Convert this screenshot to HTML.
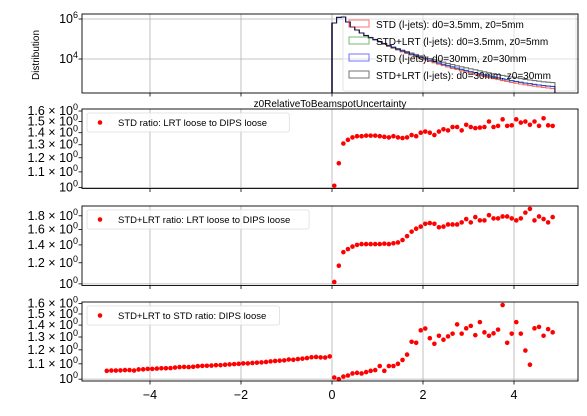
<!DOCTYPE html>
<html><head><meta charset="utf-8"><style>
body{margin:0;background:#fff;}
svg{display:block;font-family:"Liberation Sans","DejaVu Sans",sans-serif;}
</style></head><body>
<svg id="c" width="587" height="416" viewBox="0 0 587 416" xmlns="http://www.w3.org/2000/svg"></svg>
<script>
// ---- data ----
const histEdgesStart = 0.0, histBinWidth = 0.1;
const histRed = [5.8,6.08,6.1,5.85,5.6,5.45,5.3,5.17,5.06,4.95,4.85,4.74,4.63,4.54,4.45,4.36,4.28,4.2,4.12,4.04,3.96,3.88,3.81,3.74,3.67,3.6,3.53,3.47,3.41,3.35,3.29,3.23,3.17,3.12,3.07,3.02,2.97,2.92,2.88,2.83,2.79,2.75,2.71,2.67,2.64,2.61,2.58,2.55,2.52];
const histGreen = [5.8,6.08,6.1,5.85,5.6,5.45,5.3,5.17,5.06,4.96,4.86,4.75,4.65,4.56,4.47,4.39,4.31,4.23,4.15,4.08,4.0,3.93,3.86,3.79,3.72,3.66,3.59,3.53,3.47,3.41,3.35,3.3,3.24,3.19,3.14,3.09,3.04,3.0,2.95,2.91,2.87,2.83,2.79,2.76,2.73,2.7,2.67,2.64,2.62];
const histBlue = [5.8,6.08,6.1,5.85,5.6,5.45,5.3,5.17,5.07,4.97,4.87,4.77,4.67,4.58,4.49,4.41,4.33,4.25,4.17,4.1,4.02,3.95,3.88,3.81,3.74,3.68,3.61,3.55,3.49,3.43,3.37,3.32,3.26,3.21,3.16,3.11,3.06,3.01,2.97,2.92,2.88,2.84,2.8,2.77,2.73,2.7,2.67,2.65,2.63];
const histGrey = [5.8,6.08,6.1,5.85,5.6,5.45,5.3,5.18,5.08,4.98,4.88,4.78,4.68,4.6,4.52,4.44,4.37,4.3,4.23,4.16,4.09,4.02,3.96,3.9,3.84,3.78,3.72,3.66,3.61,3.56,3.51,3.46,3.41,3.36,3.31,3.26,3.22,3.18,3.14,3.1,3.06,3.02,2.98,2.95,2.92,2.89,2.86,2.84,2.82];
const posX = [0.05,0.15,0.25,0.35,0.45,0.55,0.65,0.75,0.85,0.95,1.05,1.15,1.25,1.35,1.45,1.55,1.65,1.75,1.85,1.95,2.05,2.15,2.25,2.35,2.45,2.55,2.65,2.75,2.85,2.95,3.05,3.15,3.25,3.35,3.45,3.55,3.65,3.75,3.85,3.95,4.05,4.15,4.25,4.35,4.45,4.55,4.65,4.75,4.85];
const negX = [-4.95,-4.85,-4.75,-4.65,-4.55,-4.45,-4.35,-4.25,-4.15,-4.05,-3.95,-3.85,-3.75,-3.65,-3.55,-3.45,-3.35,-3.25,-3.15,-3.05,-2.95,-2.85,-2.75,-2.65,-2.55,-2.45,-2.35,-2.25,-2.15,-2.05,-1.95,-1.85,-1.75,-1.65,-1.55,-1.45,-1.35,-1.25,-1.15,-1.05,-0.95,-0.85,-0.75,-0.65,-0.55,-0.45,-0.35,-0.25,-0.15,-0.05];
const ratioStd = [1.01,1.16,1.31,1.34,1.36,1.37,1.37,1.375,1.375,1.375,1.37,1.365,1.36,1.37,1.36,1.355,1.36,1.38,1.37,1.40,1.41,1.40,1.38,1.41,1.43,1.42,1.45,1.45,1.42,1.47,1.45,1.44,1.445,1.45,1.50,1.45,1.46,1.52,1.46,1.465,1.52,1.49,1.50,1.47,1.50,1.46,1.53,1.465,1.46];
const ratioLrt = [1.017,1.17,1.315,1.35,1.38,1.40,1.41,1.41,1.41,1.41,1.41,1.415,1.41,1.42,1.43,1.46,1.51,1.57,1.61,1.64,1.68,1.69,1.68,1.63,1.64,1.67,1.67,1.67,1.70,1.75,1.70,1.78,1.73,1.73,1.81,1.76,1.76,1.79,1.79,1.76,1.73,1.76,1.85,1.91,1.73,1.79,1.75,1.70,1.78];
const ratioDipsNeg = [1.053,1.055,1.055,1.056,1.058,1.058,1.055,1.062,1.063,1.066,1.066,1.068,1.07,1.07,1.071,1.075,1.078,1.079,1.078,1.08,1.084,1.086,1.087,1.088,1.091,1.091,1.094,1.096,1.098,1.1,1.103,1.103,1.106,1.108,1.11,1.113,1.117,1.12,1.122,1.124,1.13,1.128,1.133,1.136,1.14,1.146,1.148,1.145,1.144,1.152];
const ratioDipsPos = [1.01,1.0,1.016,1.023,1.036,1.04,1.036,1.045,1.053,1.058,1.085,1.053,1.085,1.085,1.10,1.127,1.165,1.262,1.254,1.355,1.37,1.29,1.246,1.31,1.278,1.305,1.327,1.406,1.327,1.372,1.393,1.315,1.426,1.338,1.31,1.33,1.361,1.586,1.254,1.327,1.426,1.327,1.195,1.094,1.372,1.384,1.31,1.365,1.338];
const xTicks = [-4,-2,0,2,4];
const xTickLabels = ["\u22124","\u22122","0","2","4"];
const histLegend = ["STD (l-jets): d0=3.5mm, z0=5mm","STD+LRT (l-jets): d0=3.5mm, z0=5mm","STD (l-jets): d0=30mm, z0=30mm","STD+LRT (l-jets): d0=30mm, z0=30mm"];
const ticksP2 = [1.0,1.1,1.2,1.3,1.4,1.5,1.6];
const ticksP3 = [1.0,1.2,1.4,1.6,1.8];
const ticksP4 = [1.0,1.1,1.2,1.3,1.4,1.5,1.6];

const NS="http://www.w3.org/2000/svg";
const svg=document.getElementById('c');
function el(tag,attrs,parent){const e=document.createElementNS(NS,tag);for(const k in attrs)e.setAttribute(k,attrs[k]);(parent||svg).appendChild(e);return e;}
const L=82,R=578;
const X=v=>332+(v)*45.5;
function logY(top,bot,lo,hi){return v=>bot-(Math.log10(v)-lo)/(hi-lo)*(bot-top);}

function frame(top,bot,name){
  const g=el('g',{});
  
  
  xTicks.forEach(t=>{const gl=el('line',{x1:X(t),x2:X(t),y1:top,y2:bot,stroke:'#b0b0b0','stroke-width':0.8},g);
    
    el('line',{x1:X(t),x2:X(t),y1:bot,y2:bot+3.5,stroke:'#000','stroke-width':0.8},g);});
  return g;
}
function border(g,top,bot){const r=el('rect',{x:L,y:top,width:R-L,height:bot-top,fill:'none',stroke:'#000','stroke-width':0.9},g);
  }
function ytext(g,y,main,exp){
  const t=el('text',{x:78,y:y+4,'text-anchor':'end','font-size':12.5,fill:'#000'},g);
  
  t.appendChild(document.createTextNode(main));
  const s=el('tspan',{dy:-5,'font-size':9},t);s.textContent=exp;
}
function ratioPanel(top,bot,lo,hi,ticks,xs,ys,label,name){
  const g=frame(top,bot,name);
  const Y=logY(top,bot,lo,hi);
  el('line',{x1:L,x2:R,y1:Y(1),y2:Y(1),stroke:'#b0b0b0','stroke-width':0.8},g);
  ticks.forEach(t=>{el('line',{x1:L-3.5,x2:L,y1:Y(t),y2:Y(t),stroke:'#000','stroke-width':0.8},g);
    if(t===1)ytext(g,Y(t),'10','0');else ytext(g,Y(t),t.toFixed(1)+' \u00d7 10','0');});
  xs.forEach((xa,k)=>{xa.forEach((x,i)=>{const c=el('circle',{cx:X(x),cy:Y(ys[k][i]),r:2.3,fill:'#ff0000'},g);
    });});
  border(g,top,bot);
  const lg=el('g',{},g);
  el('rect',{x:87,y:top+4,width:label.length*4.95+34,height:19,rx:2,fill:'#fff','fill-opacity':0.8,stroke:'#dddddd','stroke-width':0.8},lg);
  el('circle',{cx:100,cy:top+13.5,r:2.3,fill:'#ff0000'},lg);
  const tx=el('text',{x:118,y:top+17,'font-size':9.5,fill:'#000'},lg);tx.textContent=label;
  
}

// Panel 1 histogram
(function(){
  const top=14,bot=93;
  const g=frame(top,bot,'distribution-panel');
  const Y=v=>19+(6-v)*20;
  [6,4].forEach(p=>{el('line',{x1:L,x2:R,y1:Y(p),y2:Y(p),stroke:'#b0b0b0','stroke-width':0.8},g);
    el('line',{x1:L-3.5,x2:L,y1:Y(p),y2:Y(p),stroke:'#000','stroke-width':0.8},g);ytext(g,Y(p),'10',String(p));});
  const lg=el('g',{},g);
  el('rect',{x:343,y:15,width:233,height:76,rx:2,fill:'#fff','fill-opacity':0.5,stroke:'#dddddd','stroke-width':0.8},lg);
  const series=[[histRed,'#ff0000'],[histGreen,'#008000'],[histBlue,'#0000ff'],[histGrey,'#000000']];
  series.forEach(([d,col],si)=>{
    let p='M'+X(histEdgesStart)+','+bot;
    d.forEach((v,i)=>{const x0=X(histEdgesStart+i*histBinWidth),x1=X(histEdgesStart+(i+1)*histBinWidth);const y=Math.min(bot,Y(v));p+=' L'+x0+','+y+' L'+x1+','+y;});
    p+=' L'+X(histEdgesStart+d.length*histBinWidth)+','+bot;
    const path=el('path',{d:p,fill:'none',stroke:col,'stroke-opacity':si===3?0.55:0.6,'stroke-width':1.1},g);
    
  });
  el('line',{x1:X(0),x2:X(0),y1:bot,y2:Y(5.8),stroke:'#000033','stroke-width':1.4},g);
  border(g,top,bot);
  const cols=['#ff0000','#008000','#0000ff','#000000'];
  const lg2=el('g',{},g);
  histLegend.forEach((s,i)=>{const y=20+i*17;
    el('rect',{x:349,y:y,width:20,height:7,fill:'none',stroke:cols[i],'stroke-opacity':0.55,'stroke-width':1},lg2);
    const t=el('text',{x:376,y:y+8,'font-size':10,fill:'#000'},lg2);t.textContent=s;
    });
  const yl=el('text',{x:0,y:0,transform:'translate(39,55) rotate(-90)','text-anchor':'middle','font-size':10},svg);
  yl.textContent='Distribution';
  const xl=el('text',{x:330,y:107,'text-anchor':'middle','font-size':10},svg);
  xl.textContent='z0RelativeToBeamspotUncertainty';
})();

ratioPanel(109,188.5,-0.003,0.2095,ticksP2,[posX],[ratioStd],'STD ratio: LRT loose to DIPS loose','std-ratio-panel');
ratioPanel(206,285.5,-0.006,0.292,ticksP3,[posX],[ratioLrt],'STD+LRT ratio: LRT loose to DIPS loose','lrt-ratio-panel');
ratioPanel(302,381,-0.005,0.2085,ticksP4,[negX,posX],[ratioDipsNeg,ratioDipsPos],'STD+LRT to STD ratio: DIPS loose','dips-ratio-panel');

xTicks.forEach((t,i)=>{const tx=el('text',{x:X(t),y:399,'text-anchor':'middle','font-size':12.5},svg);
  tx.textContent=xTickLabels[i];});
</script>
</body></html>
